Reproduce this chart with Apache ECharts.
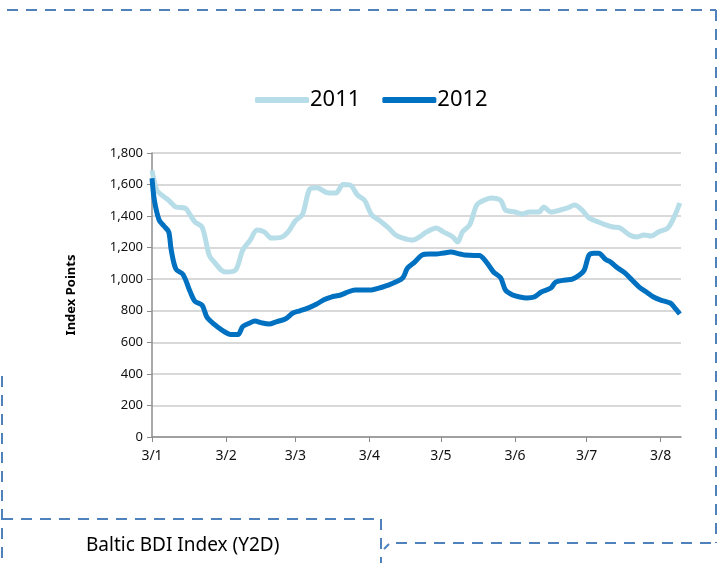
<!DOCTYPE html>
<html>
<head>
<meta charset="utf-8">
<script src="https://cdn.jsdelivr.net/npm/echarts@6/dist/echarts.min.js"></script>
<style>
  html, body { margin: 0; padding: 0; background: #fff; }
  #chart { width: 718px; height: 563px; }
</style>
</head>
<body>
<div id="chart"></div>
<script>
// days counted from the first tick (3/1)
var days2011 = [0, 2, 4, 7, 10, 14, 16, 18, 21, 24, 26, 29, 31, 35, 38, 41, 44, 47, 50, 54, 57, 60, 63, 66, 69, 73, 77, 80, 83, 86, 89, 92, 95, 99, 102, 105, 109, 112, 115, 119, 122, 126, 128, 130, 133, 136, 139, 142, 146, 148, 152, 155, 158, 162, 164, 167, 171, 174, 177, 180, 183, 187, 190, 193, 196, 200, 203, 206, 209, 212, 216, 219, 221];
var bdi2011 = [1690, 1565, 1534, 1500, 1458, 1450, 1407, 1363, 1330, 1150, 1110, 1058, 1045, 1058, 1185, 1245, 1312, 1300, 1261, 1265, 1300, 1370, 1410, 1570, 1580, 1550, 1546, 1600, 1597, 1534, 1500, 1407, 1375, 1325, 1280, 1261, 1248, 1268, 1300, 1325, 1300, 1268, 1236, 1300, 1344, 1470, 1500, 1515, 1500, 1439, 1426, 1413, 1426, 1426, 1458, 1426, 1439, 1452, 1470, 1439, 1388, 1363, 1344, 1331, 1325, 1280, 1268, 1280, 1274, 1300, 1325, 1407, 1483];

var days2012 = [0, 1, 3, 5, 7, 8, 10, 13, 16, 18, 21, 23, 26, 29, 33, 36, 38, 41, 43, 46, 49, 52, 56, 59, 62, 65, 69, 72, 75, 79, 82, 85, 89, 92, 95, 99, 102, 105, 107, 110, 113, 116, 119, 122, 125, 129, 131, 135, 137, 140, 143, 146, 148, 151, 154, 157, 160, 163, 167, 169, 173, 176, 179, 181, 183, 185, 187, 190, 192, 195, 198, 201, 204, 207, 210, 213, 217, 219, 221];
var bdi2012 = [1640, 1500, 1375, 1337, 1300, 1190, 1065, 1030, 920, 860, 835, 760, 715, 680, 650, 650, 700, 723, 735, 723, 716, 730, 750, 786, 800, 815, 843, 870, 887, 900, 919, 932, 932, 932, 944, 963, 982, 1008, 1071, 1109, 1153, 1160, 1160, 1166, 1172, 1160, 1153, 1150, 1150, 1109, 1046, 1008, 932, 900, 887, 881, 887, 919, 944, 982, 995, 1001, 1027, 1058, 1153, 1165, 1165, 1125, 1109, 1071, 1040, 995, 950, 919, 887, 868, 849, 817, 780];

var tickDays = [0, 31, 60, 91, 121, 152, 182, 213];
var tickLabels = ['3/1', '3/2', '3/3', '3/4', '3/5', '3/6', '3/7', '3/8'];

function pairs(xs, ys) {
    return xs.map(function (d, i) { return [d, ys[i]]; });
}

var dash = { stroke: '#4f81bd', lineWidth: 2, lineDash: [11, 8] };

var myChart = echarts.init(document.getElementById('chart'));
var option = {
    animation: false,
    textStyle: { fontFamily: 'Noto Sans' },
    legend: {
        left: 250,
        top: 84,
        itemWidth: 54,
        itemHeight: 6,
        itemGap: 22,
        icon: 'roundRect',
        textStyle: { fontSize: 22, color: '#000', padding: [0, 0, 0, -4] },
        data: ['2011', '2012']
    },
    grid: { left: 152, right: 37, top: 153, bottom: 126 },
    xAxis: {
        type: 'value',
        min: 0,
        max: 221.5,
        splitLine: { show: false },
        axisLine: { lineStyle: { color: '#8c8c8c', width: 1.5 } },
        axisTick: { show: true, length: 5, customValues: tickDays, lineStyle: { color: '#8c8c8c' } },
        axisLabel: {
            customValues: tickDays,
            margin: 12,
            fontSize: 14,
            color: '#111',
            formatter: function (v) { return tickLabels[tickDays.indexOf(v)]; }
        }
    },
    yAxis: {
        type: 'value',
        min: 0,
        max: 1800,
        interval: 200,
        name: 'Index Points',
        nameLocation: 'middle',
        nameGap: 74,
        nameTextStyle: { fontSize: 13, fontWeight: 'bold', color: '#000' },
        axisLine: { show: true, lineStyle: { color: '#8c8c8c', width: 1.5 } },
        axisTick: { show: true, length: 5, lineStyle: { color: '#8c8c8c' } },
        axisLabel: {
            fontSize: 13,
            color: '#111',
            margin: 9,
            formatter: function (v) { return v.toLocaleString('en-US'); }
        },
        splitLine: { lineStyle: { color: '#d9d9d9', width: 2 } }
    },
    series: [{
        name: '2011',
        type: 'line',
        data: pairs(days2011, bdi2011),
        showSymbol: false,
        smooth: 0.3,
        itemStyle: { color: '#b7dde8' },
        lineStyle: { width: 5, color: '#b7dde8' }
    }, {
        name: '2012',
        type: 'line',
        data: pairs(days2012, bdi2012),
        showSymbol: false,
        smooth: 0.3,
        itemStyle: { color: '#0070c0' },
        lineStyle: { width: 5, color: '#0070c0' }
    }],
    graphic: [
        // dashed frame pieces
        { type: 'line', shape: { x1: 7, y1: 10, x2: 716, y2: 10 }, style: dash, silent: true },
        { type: 'line', shape: { x1: 716, y1: 10, x2: 716, y2: 543 }, style: dash, silent: true },
        { type: 'line', shape: { x1: 2, y1: 376, x2: 2, y2: 563 }, style: dash, silent: true },
        { type: 'line', shape: { x1: 2, y1: 519, x2: 382, y2: 519 }, style: dash, silent: true },
        { type: 'line', shape: { x1: 381, y1: 519, x2: 381, y2: 563 }, style: dash, silent: true },
        { type: 'line', shape: { x1: 384, y1: 549, x2: 389, y2: 544 }, style: { stroke: '#4f81bd', lineWidth: 2 }, silent: true },
        { type: 'line', shape: { x1: 396, y1: 543, x2: 716, y2: 543 }, style: dash, silent: true },
        {
            type: 'text', left: 86, top: 536,
            style: { text: 'Baltic BDI Index (Y2D)', fontSize: 19, fill: '#000', fontFamily: 'Noto Sans' }
        }
    ]
};
myChart.setOption(option);
</script>
</body>
</html>
